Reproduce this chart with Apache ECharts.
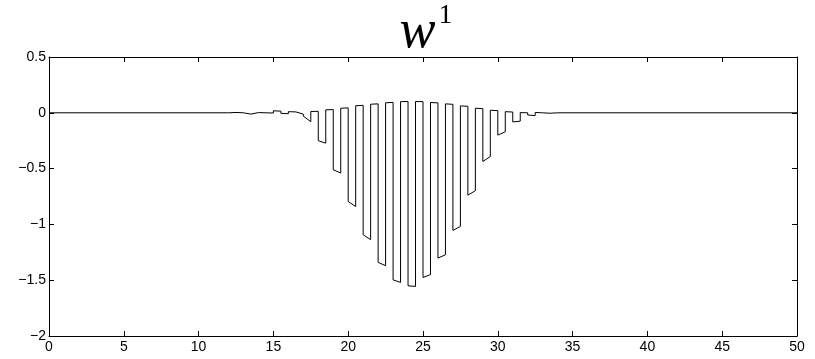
<!DOCTYPE html>
<html>
<head>
<meta charset="utf-8">
<script src="https://cdn.jsdelivr.net/npm/echarts@6/dist/echarts.min.js"></script>
<style>html,body{margin:0;padding:0;background:#fff}#c{width:815px;height:359px}</style>
</head>
<body>
<div id="c"></div>
<script>
// Piecewise-linear (discontinuous) function: piece i runs from breaks[i] to breaks[i+1]
const breaks = [0, 12, 12.5, 13, 13.5, 14, 14.5, 15, 15.5, 16, 16.5, 17, 17.5, 18, 18.5, 19, 19.5, 20, 20.5, 21, 21.5, 22, 22.5, 23, 23.5, 24, 24.5, 25, 25.5, 26, 26.5, 27, 27.5, 28, 28.5, 29, 29.5, 30, 30.5, 31, 31.5, 32, 32.5, 33, 33.5, 34, 50];
const startVals = [0, 0.003, 0, -0.01, 0.0, 0.002, 0.0, 0.018, -0.005, 0.01, 0.004, -0.03, 0.012, -0.25, 0.026, -0.51, 0.041, -0.795, 0.063, -1.093, 0.077, -1.34, 0.09, -1.497, 0.1, -1.55, 0.101, -1.476, 0.092, -1.302, 0.08, -1.054, 0.062, -0.738, 0.041, -0.436, 0.023, -0.2, 0.01, -0.082, 0.002, -0.02, 0.003, -0.006, 0.002, 0];
const endVals = [0, 0.003, 0, -0.012, 0.002, 0.0, -0.002, 0.015, -0.008, 0.008, -0.012, -0.08, 0.013, -0.272, 0.029, -0.54, 0.044, -0.84, 0.067, -1.137, 0.08, -1.37, 0.093, -1.52, 0.101, -1.556, 0.1, -1.45, 0.089, -1.272, 0.076, -1.018, 0.058, -0.698, 0.037, -0.392, 0.019, -0.17, 0.007, -0.075, 0.0, -0.025, 0.0, -0.004, 0.0, 0];
const xTicks = [0, 5, 10, 15, 20, 25, 30, 35, 40, 45, 50];
const yTicks = [-2, -1.5, -1, -0.5, 0, 0.5];

const lineData = [];
for (let i = 0; i < startVals.length; i++) {
  lineData.push([breaks[i], startVals[i]]);
  lineData.push([breaks[i + 1], endVals[i]]);
}

const chart = echarts.init(document.getElementById('c'), null, {renderer: 'canvas'});
const fmt = v => String(v).replace('-', '\u2212');
const axisFont = {fontFamily: 'Liberation Sans, Arial, sans-serif', fontSize: 14, color: '#000'};
const lineStyle = {color: '#000', width: 1};
function xAx(pos, labels) {
  return {
    type: 'value', position: pos, min: xTicks[0], max: xTicks[xTicks.length - 1], interval: 5,
    axisLine: {show: true, onZero: false, lineStyle: lineStyle},
    axisTick: {show: true, inside: true, length: 5, lineStyle: lineStyle},
    axisLabel: labels ? Object.assign({margin: 4, formatter: fmt}, axisFont) : {show: false},
    splitLine: {show: false}
  };
}
function yAx(pos, labels) {
  return {
    type: 'value', position: pos, min: yTicks[0], max: yTicks[yTicks.length - 1], interval: 0.5,
    axisLine: {show: true, onZero: false, lineStyle: lineStyle},
    axisTick: {show: true, inside: true, length: 5, lineStyle: lineStyle},
    axisLabel: labels ? Object.assign({margin: 3, formatter: fmt}, axisFont) : {show: false},
    splitLine: {show: false}
  };
}
chart.setOption({
  animation: false,
  backgroundColor: '#fff',
  title: {
    text: '{w|w}{s|1}',
    left: 421,
    top: -3,
    textAlign: 'center',
    textStyle: {
      fontWeight: 'normal',
      rich: {
        w: {fontFamily: 'Liberation Serif, serif', fontStyle: 'italic', fontWeight: 'normal', fontSize: 54, color: '#000', lineHeight: 58, verticalAlign: 'bottom'},
        s: {fontFamily: 'Liberation Serif, serif', fontWeight: 'normal', fontSize: 28, color: '#000', verticalAlign: 'top', lineHeight: 58, padding: [0, 0, 0, 3]}
      }
    }
  },
  grid: {left: 49, right: 18, top: 57, bottom: 23, containLabel: false},
  xAxis: [xAx('bottom', true), xAx('top', false)],
  yAxis: [yAx('left', true), yAx('right', false)],
  series: [{
    type: 'line',
    data: lineData,
    showSymbol: false,
    symbol: 'none',
    lineStyle: {color: '#000', width: 1},
    xAxisIndex: 0, yAxisIndex: 0
  }]
});
</script>
</body>
</html>
